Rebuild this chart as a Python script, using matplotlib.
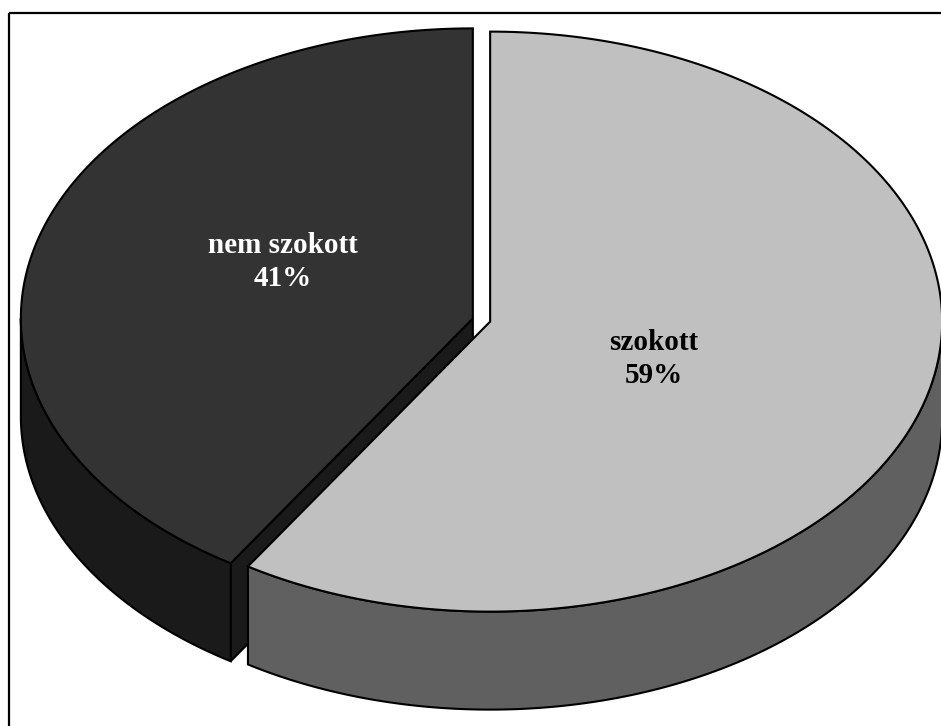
import numpy as np
import matplotlib.pyplot as plt
from matplotlib.patches import Polygon, Rectangle

# === data ===
labels = ['szokott', 'nem szokott']
values = [59, 41]
top_colors = ['#c0c0c0', '#333333']
side_colors = ['#606060', '#1a1a1a']
text_colors = ['black', 'white']
label_pos = [(654, 359), (283, 262)]

# === geometry (pixels) ===
W, H = 941, 726
CX, CY = 481.5, 320.0
RX, RY = 452.0, 290.0
DEPTH = 98.0
EXPLODE = 9.0

fig = plt.figure(figsize=(W / 100, H / 100), dpi=100)
ax = fig.add_axes([0, 0, 1, 1])
ax.set_xlim(0, W)
ax.set_ylim(H, 0)
ax.axis('off')


def proj(t, cx, cy, dz=0.0):
    return cx + RX * np.sin(t), cy - RY * np.cos(t) + dz


def poly(pts, color, z):
    ax.add_patch(Polygon(pts, closed=True, facecolor=color, edgecolor='black',
                         lw=1.5, joinstyle='miter', zorder=z))


total = sum(values)
slices = []
start = 0.0
for i, v in enumerate(values):
    a0 = start
    a1 = start + 2 * np.pi * v / total
    mid = (a0 + a1) / 2
    cx = CX + EXPLODE * np.sin(mid)
    cy = CY - EXPLODE * np.cos(mid) * RY / RX
    slices.append((i, a0, a1, cx, cy))
    start = a1

# back slices first
slices.sort(key=lambda s: s[4])

for n, (i, a0, a1, cx, cy) in enumerate(slices):
    z = 2 + n * 5
    # radial faces
    for a, sgn in ((a0, -1), (a1, 1)):
        # face normal in screen-y (toward viewer when > 0)
        ny = sgn * np.sin(a)
        if ny > 1e-6:
            px, py = proj(a, cx, cy)
            poly([(cx, cy), (px, py), (px, py + DEPTH), (cx, cy + DEPTH)],
                 side_colors[i], z)
    # outer wall (front half only)
    w0, w1 = max(a0, np.pi / 2), min(a1, 3 * np.pi / 2)
    if w1 > w0:
        t = np.linspace(w0, w1, 200)
        xs, ys = proj(t, cx, cy)
        pts = list(zip(xs, ys)) + list(zip(xs[::-1], ys[::-1] + DEPTH))
        poly(pts, side_colors[i], z + 1)
    # top surface
    t = np.linspace(a0, a1, 300)
    xs, ys = proj(t, cx, cy)
    pts = [(cx, cy)] + list(zip(xs, ys))
    poly(pts, top_colors[i], z + 2)
    # label
    pct = round(100 * values[i] / total)
    ax.text(label_pos[i][0], label_pos[i][1], f'{labels[i]}\n{pct}%',
            ha='center', va='center', color=text_colors[i],
            family='Liberation Serif', weight='bold', fontsize=21,
            linespacing=1.25, zorder=z + 3)

# outer frame
ax.add_patch(Rectangle((9, 13), 960, 740, fill=False, edgecolor='black',
                       lw=1.6, zorder=20))

fig.savefig('out.png', dpi=100)
